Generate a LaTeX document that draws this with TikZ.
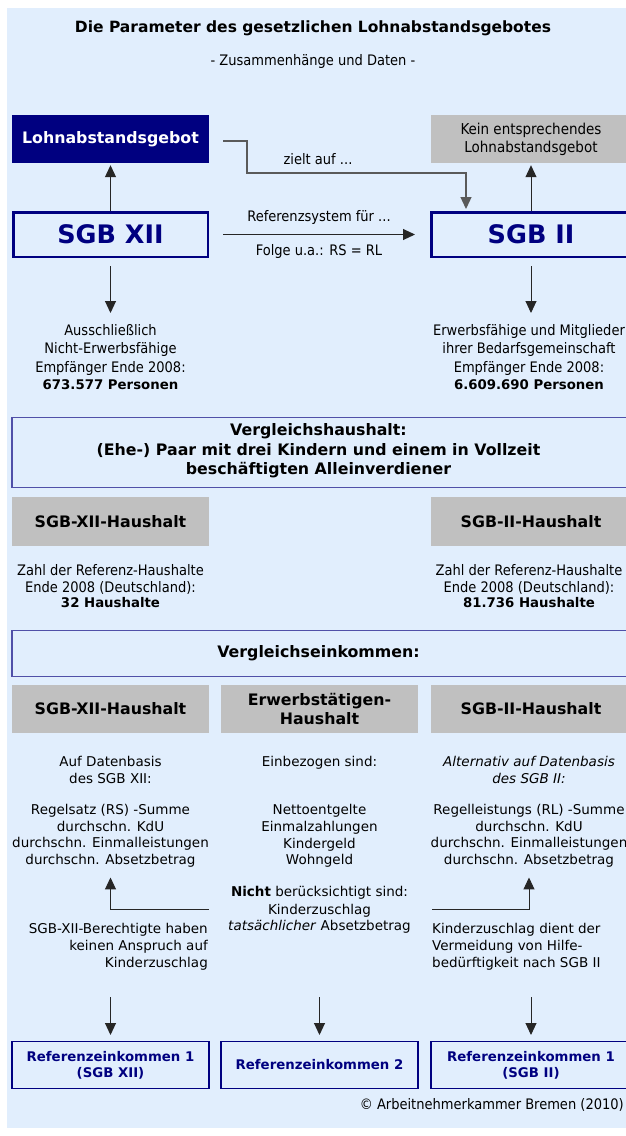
\documentclass[tikz,border=0pt]{standalone}
\usepackage{fontspec}
\setmainfont{DejaVu Sans}[BoldFont={DejaVu Sans Bold},ItalicFont={DejaVu Sans Oblique},BoldItalicFont={DejaVu Sans Bold Oblique}]
\newfontfamily\condfont{DejaVu Sans Condensed}
\usetikzlibrary{arrows.meta,positioning}
\definecolor{bgblue}{HTML}{E1EEFD}
\definecolor{navyblue}{HTML}{000080}
\definecolor{boxgray}{HTML}{C0C0C0}
\definecolor{linegray}{HTML}{5A5A5A}
\definecolor{framecol}{HTML}{5050A8}
\newcommand{\titlefont}{\bfseries\fontsize{15.5}{19}\selectfont}
\newcommand{\headfont}{\bfseries\fontsize{15.8}{19.5}\selectfont}
\newcommand{\bigfont}{\bfseries\fontsize{25.5}{30}\selectfont}
\newcommand{\bodyfont}{\fontsize{13.5}{16.7}\selectfont}
\newcommand{\narrowfont}{\condfont\fontsize{14.5}{18}\selectfont}
\newcommand{\boldbody}{\normalfont\bfseries\fontsize{13.3}{16}\selectfont}

\begin{document}
\begin{tikzpicture}[x=1pt,y=-1pt,
    pfeil/.style={-{Triangle[length=12pt,width=11pt]},line width=1pt,draw=black!85},
    verbinder/.style={-{Triangle[length=12pt,width=11pt]},line width=1.3pt,draw=linegray},
    navybox/.style={fill=navyblue,text=white,font=\headfont,inner sep=0pt,minimum height=48pt},
    graybox/.style={fill=boxgray,font=\headfont,align=center,inner sep=0pt,minimum height=48pt},
    sgbbox/.style={draw=navyblue,line width=2.5pt,text=navyblue,font=\bigfont,inner sep=0pt,minimum height=44.5pt},
    rahmen/.style={draw=framecol,line width=1.3pt,inner sep=0pt},
    refbox/.style={draw=navyblue,line width=1.3pt,text=navyblue,font=\boldbody,align=center,inner sep=0pt,minimum height=46.7pt},
    txtbody/.style={font=\bodyfont,align=center,inner sep=0pt},
    txtnarrow/.style={font=\narrowfont,align=center,inner sep=0pt}]
\clip (0,0) rectangle (626,1136);
\fill[bgblue] (7,8) rectangle (640,1128);

\node[font=\titlefont] (titel) at (313,28) {Die Parameter des gesetzlichen Lohnabstandsgebotes};
\node[txtnarrow] (untertitel) at (313,61) {- Zusammenhänge und Daten -};

\node[navybox,minimum width=197pt] (lohn) at (110.5,139) {Lohnabstandsgebot};
\node[graybox,minimum width=200pt,font=\condfont\fontsize{15}{18}\selectfont] (kein) at (531,139) {Kein entsprechendes\\Lohnabstandsgebot};
\node[sgbbox,minimum width=194.5pt] (sgbxii) at (110.5,234.5) {SGB XII};
\node[sgbbox,minimum width=199.5pt] (sgbii) at (531,234.5) {SGB II};

\draw[pfeil] (sgbxii.north) -- ([yshift=-2pt]lohn.south);
\draw[pfeil] (sgbii.north) -- ([yshift=-2pt]kein.south);

\coordinate (zielstart) at ([xshift=14pt,yshift=-2pt]lohn.east);
\draw[verbinder] (zielstart) -| (247,173) -| ([xshift=-65pt,yshift=2pt]sgbii.north);
\node[txtnarrow] (ziel) at (318,159) {zielt auf ...};

\draw[pfeil] ([xshift=14pt]sgbxii.east) -- ([xshift=-15pt]sgbii.west)
    node[pos=0.5,yshift=17pt,txtnarrow] (refsys) {Referenzsystem für ...}
    node[pos=0.5,yshift=-17pt,txtnarrow] (folge) {Folge u.a.: RS = RL};

\node[txtnarrow,anchor=north] (empfxii) at (110.5,324) {Ausschließlich\\Nicht-Erwerbsfähige\\[1pt]Empfänger Ende 2008:\\[-1pt]{\boldbody 673.577 Personen}};
\node[txtnarrow,anchor=north] (empfii) at (529,324) {Erwerbsfähige und Mitglieder\\ihrer Bedarfsgemeinschaft\\[1pt]Empfänger Ende 2008:\\[-1pt]{\boldbody 6.609.690 Personen}};
\draw[pfeil] ([yshift=-8pt]sgbxii.south) -- ([yshift=11pt]empfxii.north);
\draw[pfeil] ([yshift=-8pt]sgbii.south) -- ([yshift=11pt]sgbii.south |- empfii.north);

\node[rahmen,minimum width=628pt,minimum height=70pt] (vhhrahmen) at (326,452.5) {};
\node[font=\headfont,align=center] (vhh) at (318.5,451) {Vergleichshaushalt:\\(Ehe-) Paar mit drei Kindern und einem in Vollzeit\\beschäftigten Alleinverdiener};

\node[graybox,minimum width=197pt,minimum height=49pt] (hhxii) at (110.5,521.5) {SGB-XII-Haushalt};
\node[graybox,minimum width=200pt,minimum height=49pt] (hhii) at (531,521.5) {SGB-II-Haushalt};

\node[txtnarrow,anchor=north,font=\condfont\fontsize{14.5}{17}\selectfont] (zahlxii) at (110.5,564) {Zahl der Referenz-Haushalte\\Ende 2008 (Deutschland):\\[-2pt]{\boldbody 32 Haushalte}};
\node[txtnarrow,anchor=north,font=\condfont\fontsize{14.5}{17}\selectfont] (zahlii) at (529,564) {Zahl der Referenz-Haushalte\\Ende 2008 (Deutschland):\\[-2pt]{\boldbody 81.736 Haushalte}};

\node[rahmen,minimum width=628pt,minimum height=46pt] (vekrahmen) at (326,653.5) {};
\node[font=\headfont] (vek) at (318.5,653.5) {Vergleichseinkommen:};

\node[graybox,minimum width=197pt] (ekxii) at (110.5,709) {SGB-XII-Haushalt};
\node[graybox,minimum width=197pt] (ekerw) at (319.5,709) {Erwerbstätigen-\\Haushalt};
\node[graybox,minimum width=200pt] (ekii) at (531,709) {SGB-II-Haushalt};

\node[txtbody,anchor=north] (listexii) at (110.5,756.5) {Auf Datenbasis\\des SGB XII:\\[14pt]Regelsatz (RS) -Summe\\durchschn. KdU\\durchschn. Einmalleistungen\\durchschn. Absetzbetrag};
\node[txtbody,anchor=north] (listeerw) at (319.5,756.5) {Einbezogen sind:\\[31pt]Nettoentgelte\\Einmalzahlungen\\Kindergeld\\Wohngeld\\[15pt]\textbf{Nicht} berücksichtigt sind:\\[1pt]Kinderzuschlag\\\textit{tatsächlicher} Absetzbetrag};
\node[txtbody,anchor=north] (listeii) at (529,756.5) {\textit{Alternativ auf Datenbasis}\\\textit{des SGB II:}\\[14pt]Regelleistungs (RL) -Summe\\durchschn. KdU\\durchschn. Einmalleistungen\\durchschn. Absetzbetrag};

\node[txtbody,anchor=north east,align=right] (notizxii) at (208,923.5) {SGB-XII-Berechtigte haben\\keinen Anspruch auf\\Kinderzuschlag};
\node[txtbody,anchor=north west,align=left] (notizii) at (432,923.5) {Kinderzuschlag dient der\\Vermeidung von Hilfe-\\bedürftigkeit nach SGB II};

\coordinate (kzxii) at (209,909);
\coordinate (kzii) at (432,909);
\draw[pfeil] (kzxii) -| ([yshift=-10pt]listexii.south);
\draw[pfeil] (kzii) -| ([yshift=-10pt]listeii.south);

\node[refbox,minimum width=197pt] (refxii) at (110.5,1065) {Referenzeinkommen 1\\(SGB XII)};
\node[refbox,minimum width=197pt] (referw) at (319.5,1065) {Referenzeinkommen 2};
\node[refbox,minimum width=200pt] (refii) at (531,1065) {Referenzeinkommen 1\\(SGB II)};
\foreach \n in {refxii,referw,refii}
    \draw[pfeil] ([yshift=44pt]\n.north) -- ([yshift=6pt]\n.north);

\node[txtnarrow,anchor=east] (copy) at (624,1105) {© Arbeitnehmerkammer Bremen (2010)};
\end{tikzpicture}
\end{document}
